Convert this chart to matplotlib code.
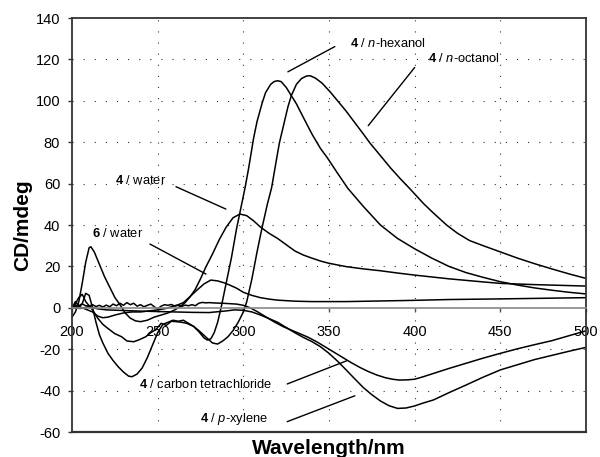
import matplotlib
matplotlib.use("Agg")
import matplotlib.pyplot as plt

plt.rcParams['font.family'] = ['Liberation Sans', 'DejaVu Sans']
plt.rcParams['mathtext.fontset'] = 'custom'
plt.rcParams['mathtext.rm'] = 'Liberation Sans'
plt.rcParams['mathtext.bf'] = 'Liberation Sans:bold'
plt.rcParams['mathtext.it'] = 'Liberation Sans:italic'
plt.rcParams['axes.unicode_minus'] = False

# ---------------- data ----------------
hex_x = [200, 202, 204, 206, 208, 210, 212, 214, 216, 218, 221, 224, 227, 230, 233, 235, 238, 241,
         244, 247, 250, 253, 256, 259, 262, 265, 268, 271, 274, 277, 279, 281, 283, 285, 287, 289,
         291, 293, 296, 298, 301, 303, 306, 308, 311, 313, 316, 318, 320, 322, 325, 328, 331, 335,
         340, 345, 349, 355, 361, 370, 380, 390, 400, 410, 420, 430, 440, 450, 460, 470, 480, 490, 500]
hex_y = [0, 3, 1, 2, 7, 6, 0, -7, -13, -17, -22, -25.5, -28.5, -31, -33, -33.3, -32, -29,
         -24, -18, -12, -8, -7, -6, -6.5, -6, -7.5, -9, -11.5, -14.5, -15.6, -15, -12, -7, 0, 8,
         16, 24, 38, 46, 58, 67, 82, 90, 99, 104, 108, 109.3, 109.7, 109.3, 106.5, 102.5, 98.5, 92,
         84, 77, 72.5, 65, 57.7, 49, 40, 33.5, 28.5, 24, 20, 17, 14.7, 12.6, 11, 9.6, 8.5, 7.5, 6.7]

oct_x = [200, 202, 204, 206, 208, 210, 212, 215, 218, 221, 225, 229, 232, 236, 239, 243, 246, 249,
         252, 255, 258, 261, 264, 267, 271, 274, 278, 282, 285, 288, 291, 294, 297, 300, 302, 305,
         308, 311, 314, 316.5, 319, 321, 324, 326, 328, 331, 334, 337, 339, 342, 346, 351, 356, 360,
         365, 370, 374, 380, 386, 392, 397, 405, 410, 418.6, 425, 432, 440, 450, 460, 470, 480, 490, 500]
oct_y = [0, 2, 5, 6.5, 3, 1, -1, -5, -8, -10, -12.5, -14, -16, -16.4, -15.5, -14, -12, -10.5,
         -7.5, -8.5, -6.5, -6.7, -7, -7.5, -9, -11, -14, -17, -17.5, -16, -14, -11, -7, -2, 3, 14,
         27, 39, 50, 58, 70, 79.5, 90, 97, 102.5, 108, 110.8, 112, 112.1, 111, 108.5, 104, 99, 95,
         89.5, 84, 79.5, 73.5, 67.5, 62, 57.7, 50.5, 46.5, 40, 36, 32.5, 30, 27, 24, 21.3, 18.8, 16.4, 14.2]

w4_x = [200, 202, 204, 206, 208, 210, 211, 213, 216, 219, 222, 225, 228, 231, 234, 237, 240, 244,
        248, 252, 256, 260, 263, 266, 269, 272, 275, 278, 282, 286, 290, 294, 298, 302, 306, 310,
        315, 320, 325, 330, 335, 340, 345, 350, 360, 370, 380, 390, 400, 420, 440, 450, 470, 500]
w4_y = [-4.5, -2, 3, 12, 22, 29, 29.5, 27, 21, 15, 10, 5, 1.5, -2.5, -5, -6.3, -6.7, -6,
        -4.5, -3.5, -2.5, -1, 0.5, 2.5, 5.4, 9, 14, 19.5, 26, 33, 39, 43.5, 45.3, 44.5, 42, 39,
        36, 33.5, 30.5, 27.5, 25.5, 24, 22.6, 21.5, 19.9, 18.8, 17.9, 16.8, 15.8, 14, 12.5, 11.8, 11.2, 10.5]

w6_x = [200, 203, 206, 209, 212, 215, 218, 221, 225, 230, 235, 240, 245, 250, 255, 258, 262, 265,
        269, 273, 277, 281, 285, 289, 292, 296, 300, 305, 310, 315, 320, 330, 340, 350, 360, 380,
        400, 420, 450, 475, 500]
w6_y = [0, 1, 0, -1, -2, -4, -4.8, -4.5, -3.5, -2.5, -2, -2, -1.5, -1, -0.3, 0.5, 1.5, 2.5,
        5.5, 8.6, 11.5, 13.4, 13, 12, 11, 9.5, 7.5, 6, 4.9, 4.2, 3.7, 3.2, 3, 3, 3, 3.3,
        3.6, 4, 4.3, 4.6, 4.9]

ccl4_x = [200, 202, 204, 206, 208, 210, 212, 214, 216, 218, 220, 222, 224, 226, 228, 230, 232, 234,
          236, 238, 240, 242, 244, 246, 248, 250, 252, 254, 256, 258, 260, 262, 264, 266, 268, 270,
          272, 274, 276, 278, 280, 284, 288, 292, 296, 300, 304, 308, 313, 318, 323, 328, 333, 338,
          343, 348, 353, 358, 363, 368, 373, 378, 383, 387, 391, 396, 400, 405, 411, 420, 430, 440,
          450, 460, 470, 480, 490, 500]
ccl4_y = [0, 1.5, 0.5, 1.8, 1, 0.8, 1.5, 0.6, 1.2, 0.4, 1.3, 0.5, 1.8, 1.0, 2.2, 1.2, 2.5, 1.5,
          2.2, 0.8, 1.5, 0.5, 1.2, 1.8, 0.5, -0.5, 0.8, 1.5, 1.2, 1.6, 0.8, 1.2, 0.7, 1.3, 1.0, 1.5,
          1.0, 2.2, 2.6, 2.4, 2.5, 2.3, 2.2, 2.0, 1.8, 1.2, 0, -1.8, -4.3, -6.8, -9, -10.8, -12.5, -14.3,
          -16.5, -19, -21.5, -24, -26.5, -28.8, -30.8, -32.5, -33.8, -34.5, -34.9, -34.8, -34.5, -33.3,
          -31.7, -29.3, -26.8, -24.3, -22, -19.8, -17.8, -15.9, -13.5, -11.1]

pxy_x = [200, 205, 210, 215, 220, 230, 240, 250, 260, 270, 280, 290, 295, 300, 305, 310, 315, 320,
         325, 330, 335, 340, 345, 350, 355, 360, 365, 370, 375, 380, 385, 390, 395, 400, 405, 411,
         420, 430, 440, 450, 460, 470, 480, 490, 500]
pxy_y = [0, -0.3, 0.5, -0.5, -1, -1.3, -1.6, -1.8, -2, -2.2, -2.3, -1.5, -1.0, -1.2, -2, -3.5, -5.2, -7,
         -9.5, -12, -14.3, -16.3, -18.8, -22, -25.8, -30, -34.3, -38.5, -42, -45, -47.3, -48.6, -48.4,
         -47.4, -46, -44.5, -41, -37.3, -33.5, -30, -27.5, -25, -23, -21, -19.1]

series = [(hex_x, hex_y), (oct_x, oct_y), (w4_x, w4_y), (w6_x, w6_y),
          (ccl4_x, ccl4_y), (pxy_x, pxy_y)]

x_ticks = [200, 250, 300, 350, 400, 450, 500]
y_ticks = [-60, -40, -20, 0, 20, 40, 60, 80, 100, 120, 140]

# label text, text anchor (x, y), leader start, leader end
labels = [
    (r"$\mathbf{4}$ / $\mathit{n}$-hexanol", (362, 127.6), (353.4, 126.2), (326, 114)),
    (r"$\mathbf{4}$ / $\mathit{n}$-octanol", (407.5, 120.6), (400, 116.1), (372.9, 88)),
    (r"$\mathbf{4}$ / water", (225, 61.7), (260.7, 58.5), (289.8, 47.7)),
    (r"$\mathbf{6}$ / water", (211.5, 36), (245.5, 30.8), (278.2, 16.3)),
    (r"$\mathbf{4}$ / carbon tetrachloride", (239.3, -37), (325.6, -36.8), (360.3, -25.6)),
    (r"$\mathbf{4}$ / $\mathit{p}$-xylene", (274.7, -53.7), (325.6, -55), (365.1, -42.5)),
]

# ---------------- figure ----------------
fig = plt.figure(figsize=(6, 4.57), dpi=100)
ax = fig.add_axes([0.12, 0.0547, 0.8567, 0.9059])

for xs, ys in series:
    ax.plot(xs, ys, color='black', lw=1.1, solid_joinstyle='round')

ax.set_xlim(200, 500)
ax.set_ylim(-60, 140)
ax.set_xticks(x_ticks)
ax.set_yticks(y_ticks)

# grid
for gx in x_ticks[1:-1]:
    ax.axvline(gx, color='#333333', lw=0.8, ls=(0, (1, 9)), zorder=0)
for gy in y_ticks[1:-1]:
    if gy != 0:
        ax.axhline(gy, color='#333333', lw=0.8, ls=(0, (1, 9)), zorder=0)

# spines: x axis at zero (gray), full frame in dark
ax.spines['bottom'].set_position(('data', 0))
ax.spines['bottom'].set_color('#888888')
ax.spines['bottom'].set_linewidth(1.2)
for s in ['left', 'top', 'right']:
    ax.spines[s].set_color('#333333')
    ax.spines[s].set_linewidth(1.3)
ax.plot([0, 1], [0, 0], transform=ax.transAxes, color='#333333', lw=1.6, clip_on=False)

ax.tick_params(axis='x', direction='out', length=3, width=1, color='#555555',
               labelsize=10.5, pad=9.5)
ax.tick_params(axis='y', direction='out', length=3, width=1, color='#333333',
               labelsize=10.5, pad=5.5)

ax.set_xlabel('Wavelength/nm', fontsize=15, fontweight='bold')
ax.xaxis.set_label_coords(0.5, -0.018)
ax.set_ylabel('CD/mdeg', fontsize=15, fontweight='bold')
ax.yaxis.set_label_coords(-0.078, 0.5)

for text, pos, p0, p1 in labels:
    ax.text(pos[0], pos[1], text, fontsize=9.3, ha='left', va='center')
    ax.annotate('', xy=p1, xytext=p0,
                arrowprops=dict(arrowstyle='-', color='black', lw=1.0, shrinkA=0, shrinkB=0))

fig.savefig('out.png', dpi=100)
